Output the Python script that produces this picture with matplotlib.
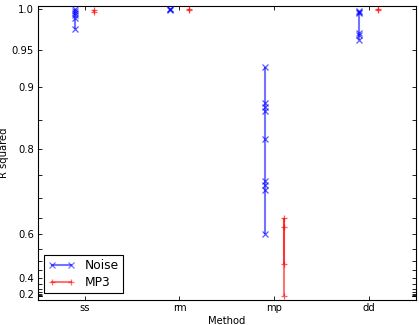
import numpy as np
import matplotlib
matplotlib.use('Agg')
import matplotlib.pyplot as plt
from matplotlib.collections import LineCollection
from matplotlib.lines import Line2D

methods = ['ss', 'rm', 'mp', 'dd']

noise_ss = [1.0, 0.998, 0.996, 0.993, 0.990, 0.976]
noise_rm = [1.0, 1.0, 0.9995]
noise_mp = [0.928, 0.877, 0.871, 0.864, 0.818, 0.738, 0.729, 0.718, 0.601]
noise_dd = [0.998, 0.997, 0.996, 0.972, 0.969, 0.963]

mp3_ss = [0.9995, 0.997]
mp3_rm = [1.0, 0.9995]
mp3_mp = [0.02, 0.624, 0.648, 0.482]
mp3_dd = [1.0, 0.9995]

noise_values = [noise_ss, noise_rm, noise_mp, noise_dd]
mp3_values = [mp3_ss, mp3_rm, mp3_mp, mp3_dd]

ytick_values = [round(v, 2) for v in np.arange(0.0, 1.0001, 0.05)]
ytick_labels = {1.0: '1.0', 0.95: '0.95', 0.9: '0.9', 0.8: '0.8',
                0.6: '0.6', 0.4: '0.4', 0.2: '0.2'}

plt.rcParams['font.family'] = ['DejaVu Sans']
fig = plt.figure(figsize=(4.19, 3.25), dpi=100)
ax = fig.add_axes([37.5 / 419, 1 - 299.5 / 325, (416 - 37.5) / 419, (299.5 - 5.7) / 325])

ax.set_yscale('function', functions=(lambda y: np.power(y, 3), np.cbrt))

LW = 1.5
MS = 4.2
MEW = 0.9

def draw(values_list, offset, color, marker):
    for i, vals in enumerate(values_list):
        x = i + offset
        segs = [[(x, vals[k]), (x, vals[k + 1])] for k in range(len(vals) - 1)]
        if segs:
            lc = LineCollection(segs, colors=color, linewidths=LW, alpha=0.55, zorder=2)
            ax.add_collection(lc)
        ax.plot([x] * len(vals), vals, ls='none', marker=marker, color=color,
                markersize=MS, markeredgewidth=MEW, alpha=0.65, zorder=3)

draw(noise_values, -0.1, 'b', 'x')
draw(mp3_values, 0.1, 'r', '+')

ax.set_xlim(-0.5, 3.5)
ax.set_ylim(-0.22, 1.004)
ax.set_xticks(range(len(methods)))
ax.set_xticklabels(methods)
ax.set_yticks(ytick_values)
ax.set_yticklabels([ytick_labels.get(v, '') for v in ytick_values])
ax.tick_params(direction='in', length=3.2, width=0.6, top=True, right=True,
               labelsize=7.2, pad=2.5)
for s in ax.spines.values():
    s.set_linewidth(0.8)

ax.set_xlabel('Method', fontsize=7.2, labelpad=2)
ax.set_ylabel('R squared', fontsize=7.2)
ax.yaxis.set_label_coords(-0.074, 0.5)

handles = [Line2D([], [], color='b', marker='x', lw=LW, alpha=0.55, markersize=MS, markeredgewidth=MEW),
           Line2D([], [], color='r', marker='+', lw=LW, alpha=0.55, markersize=MS, markeredgewidth=MEW)]
leg = ax.legend(handles, ['Noise', 'MP3'], loc='lower left', numpoints=2, fontsize=8.8,
                fancybox=False, framealpha=1, edgecolor='black', borderaxespad=0.5,
                handlelength=2.2, borderpad=0.35, labelspacing=0.3, handletextpad=0.8)
leg.get_frame().set_linewidth(0.8)

fig.savefig('out.png', dpi=100)
